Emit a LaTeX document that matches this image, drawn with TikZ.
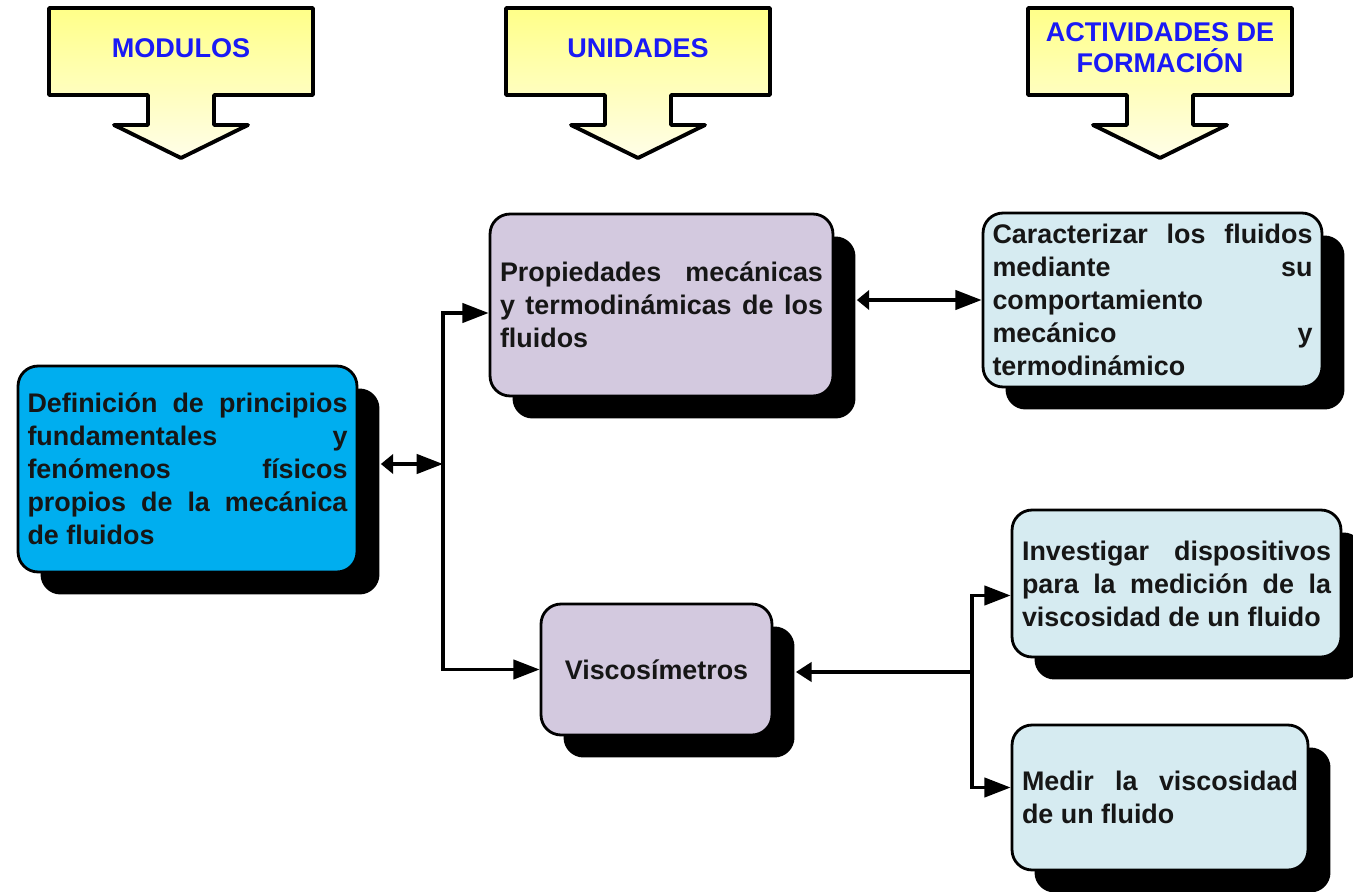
\documentclass[tikz,border=0pt]{standalone}
\usepackage{fontspec}
\setmainfont{Liberation Sans}
\usetikzlibrary{arrows.meta,shadows}
\definecolor{celeste}{HTML}{00AEEF}
\definecolor{lila}{HTML}{D3C9DF}
\definecolor{hielo}{HTML}{D6EBF1}
\definecolor{amarillo}{HTML}{FFFF88}
\definecolor{crema}{HTML}{FFFEE8}
\definecolor{azulo}{HTML}{1A1AF5}
\definecolor{tinta}{HTML}{161616}
\hyphenpenalty=10000
\tolerance=9999
\tikzset{caja/.style={draw=black,line width=1.6pt,rounded corners=.4cm,fill=#1,
           drop shadow={shadow xshift=.45cm,shadow yshift=-.45cm,fill=black,opacity=1},
           inner xsep=.19cm,align=justify,text=tinta,
           font=\fontsize{15.3}{18.8}\selectfont\bfseries},
         cab/.style={draw=black,line width=2.2pt,line join=round,top color=amarillo,bottom color=crema},
         tit/.style={text=azulo,align=center,font=\fontsize{15.4}{17.6}\selectfont\bfseries},
         fl/.style={line width=2pt,-{Triangle[length=15pt,width=11pt]}},
         dfl/.style={line width=2pt,{Triangle[length=7pt,width=11pt]}-{Triangle[length=15pt,width=11pt]}}}
\begin{document}
\begin{tikzpicture}[x=.02cm,y=-.02cm]
  \useasboundingbox (0,0) rectangle (1353,892);
  \foreach \cx/\nm/\txt in {181/mod/MODULOS,638/uni/UNIDADES,1160/act/{ACTIVIDADES DE\\FORMACIÓN}}{
    \draw[cab] (\cx-132,8) -- (\cx+132,8) -- (\cx+132,95) -- (\cx+33,95) -- (\cx+33,125) -- (\cx+67,125)
      -- (\cx,158) -- (\cx-67,125) -- (\cx-33,125) -- (\cx-33,95) -- (\cx-132,95) -- cycle;
    \node[tit] (\nm) at (\cx,48) {\txt};
  }
  \node[caja=celeste,text width=6.4cm,minimum width=6.78cm,minimum height=4.12cm] (def) at (187.5,469)
    {Definición de principios\linebreak fundamentales y\linebreak fenómenos físicos\linebreak propios de la mecánica\linebreak de fluidos};
  \node[caja=lila,text width=6.46cm,minimum width=6.86cm,minimum height=3.64cm] (prop) at (661.5,305)
    {Propiedades mecánicas\linebreak y termodinámicas de los\linebreak fluidos};
  \node[caja=lila,align=center,minimum width=4.62cm,minimum height=2.62cm] (visco) at (656.5,669.5) {Viscosímetros};
  \node[caja=hielo,text width=6.4cm,minimum width=6.78cm,minimum height=3.48cm] (car) at (1152.5,300)
    {Caracterizar los fluidos\linebreak mediante su\linebreak comportamiento\linebreak mecánico y\linebreak termodinámico};
  \node[caja=hielo,text width=6.18cm,minimum width=6.58cm,minimum height=2.94cm] (inv) at (1176.5,583.5)
    {Investigar dispositivos\linebreak para la medición de la\linebreak viscosidad de un fluido};
  \node[caja=hielo,text width=5.52cm,minimum width=5.92cm,minimum height=2.9cm] (med) at (1160,797.5)
    {Medir la viscosidad\linebreak de un fluido};
  \coordinate (ja) at (443,464);
  \coordinate (jb) at (972,672);
  \draw[dfl] ([xshift=.45cm]def.east |- ja) -- (ja);
  \draw[fl] (ja) |- ([yshift=-.16cm]prop.west);
  \draw[fl] (ja) |- (visco.west);
  \draw[dfl] ([xshift=.45cm]prop.east |- car.west) -- (car.west);
  \draw[line width=2pt,-{Triangle[length=9pt,width=11pt]}] (jb) -- ([xshift=.45cm]visco.east |- jb);
  \draw[fl] (jb) |- ([yshift=-.24cm]inv.west);
  \draw[fl] (jb) |- ([yshift=.2cm]med.west);
\end{tikzpicture}
\end{document}
